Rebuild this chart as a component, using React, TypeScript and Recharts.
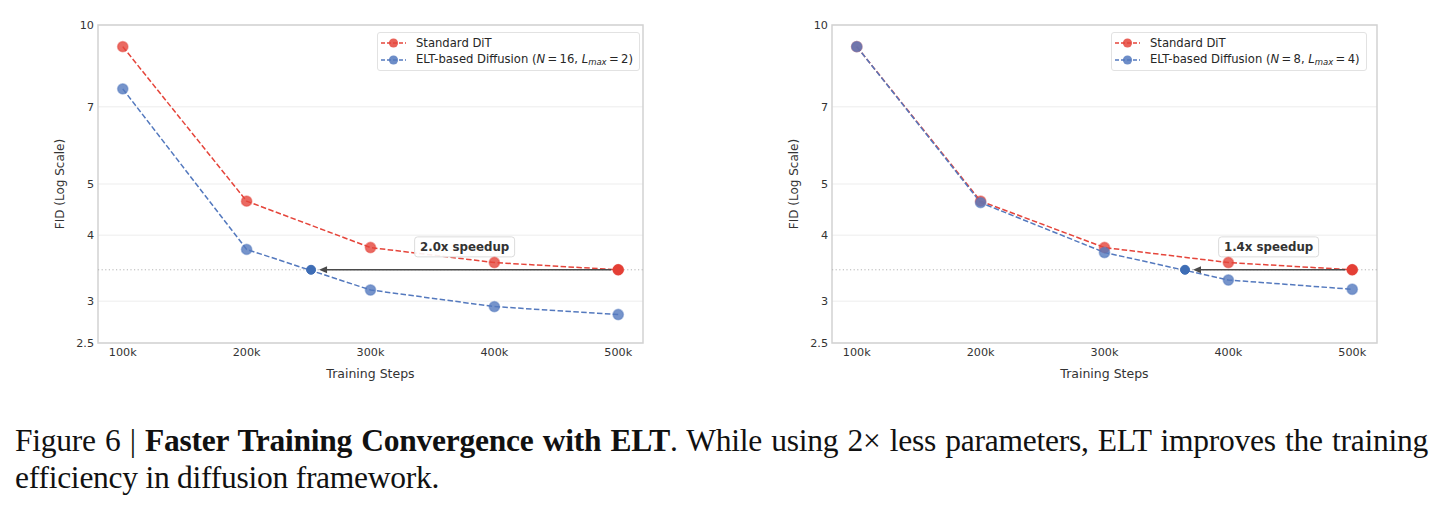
import {
  LineChart,
  Line,
  XAxis,
  YAxis,
  CartesianGrid,
  Legend,
  ReferenceLine,
  ReferenceDot,
  ReferenceArea,
} from "recharts"

// training steps at which FID was measured
const steps = [100000, 200000, 300000, 400000, 500000]
const xTicks = [100000, 200000, 300000, 400000, 500000]
const yTicks = [2.5, 3, 4, 5, 7, 10]

// baseline DiT, same run in both panels
const ditFid = [9.1, 4.64, 3.79, 3.55, 3.44]

// ELT, N=16 / Lmax=2
const eltFidWide = [7.57, 3.76, 3.15, 2.93, 2.83]
const matchStepWide = 252000
const speedupWide = "2.0x speedup"

// ELT, N=8 / Lmax=4
const eltFidDeep = [9.1, 4.61, 3.71, 3.29, 3.16]
const matchStepDeep = 365000
const speedupDeep = "1.4x speedup"

const RED = "#e5453b"
const BLUE = "#5479be"
const FONT = "DejaVu Sans, Verdana, sans-serif"

const W = 660
const H = 400

function markerDot(color: string) {
  return (p: any) => (
    <circle
      key={`d-${p.index}`}
      cx={p.cx}
      cy={p.cy}
      r={5.2}
      fill={color}
      fillOpacity={0.8}
      stroke={color}
      strokeOpacity={0.45}
      strokeWidth={1.5}
    />
  )
}

function LegendMarker({ color }: { color: string }) {
  return (
    <svg width={25} height={10} style={{ marginRight: 10, flex: "none" }}>
      <line x1={0} y1={5} x2={25} y2={5} stroke={color} strokeWidth={1.5} strokeDasharray="4 2" />
      <circle cx={12.5} cy={5} r={4.6} fill={color} fillOpacity={0.85} />
    </svg>
  )
}

function LegendBox({ n, l }: { n: number; l: number }) {
  const row = { display: "flex", alignItems: "center", height: 17, whiteSpace: "nowrap" as const }
  return (
    <div
      style={{
        border: "1px solid #e2e2e2",
        borderRadius: 3,
        background: "rgba(255,255,255,0.85)",
        padding: "1px 6px 2px 3px",
        fontFamily: FONT,
        fontSize: 11.6,
        color: "#262626",
      }}
    >
      <div style={row}>
        <LegendMarker color={RED} />
        Standard DiT
      </div>
      <div style={row}>
        <LegendMarker color={BLUE} />
        <span>
          ELT-based Diffusion (<i>N</i>&thinsp;=&thinsp;{n}, <i>L</i>
          <sub style={{ fontSize: 8.5, fontStyle: "italic", verticalAlign: "-2px" }}>max</sub>&thinsp;=&thinsp;{l})
        </span>
      </div>
    </div>
  )
}

interface PanelProps {
  elt: number[]
  matchStep: number
  speedup: string
  n: number
  l: number
  left: number
}

function Panel({ elt, matchStep, speedup, n, l, left }: PanelProps) {
  const data = steps.map((s, i) => ({ step: s, dit: ditFid[i], elt: elt[i] }))
  const target = ditFid[ditFid.length - 1]
  const lastStep = steps[steps.length - 1]

  return (
    <div style={{ position: "absolute", left, top: 0 }}>
      <LineChart width={W} height={H} data={data} margin={{ top: 25, right: 17, bottom: 27, left: 58 }}>
        <CartesianGrid vertical={false} stroke="#ededed" strokeWidth={1} />
        <ReferenceArea
          x1={80000}
          x2={520000}
          y1={2.5}
          y2={10}
          fill="none"
          fillOpacity={0}
          stroke="#d2d2d2"
          strokeWidth={1.5}
        />
        <XAxis
          dataKey="step"
          type="number"
          domain={[80000, 520000]}
          ticks={xTicks}
          tickFormatter={(v: number) => `${v / 1000}k`}
          axisLine={false}
          tickLine={false}
          tickSize={0}
          tickMargin={5}
          height={30}
          tick={{ fontFamily: FONT, fontSize: 11.2, fill: "#333" }}
          label={{
            content: ({ viewBox }: any) => (
              <text
                x={viewBox.x + viewBox.width / 2}
                y={viewBox.y + 30}
                textAnchor="middle"
                dominantBaseline="central"
                fontFamily={FONT}
                fontSize={12.5}
                fill="#333"
              >
                Training Steps
              </text>
            ),
          }}
        />
        <YAxis
          type="number"
          scale="log"
          domain={[2.5, 10]}
          ticks={yTicks}
          allowDataOverflow
          axisLine={false}
          tickLine={false}
          tickSize={0}
          tickMargin={4}
          width={40}
          tick={{ fontFamily: FONT, fontSize: 11.2, fill: "#333" }}
          label={{
            content: ({ viewBox }: any) => {
              const cx = viewBox.x + 2
              const cy = viewBox.y + viewBox.height / 2
              return (
                <text
                  x={cx}
                  y={cy}
                  transform={`rotate(-90 ${cx} ${cy})`}
                  textAnchor="middle"
                  dominantBaseline="central"
                  fontFamily={FONT}
                  fontSize={12}
                  fill="#333"
                >
                  FID (Log Scale)
                </text>
              )
            },
          }}
        />
        <ReferenceLine y={target} stroke="#b4b4b4" strokeWidth={1} strokeDasharray="1.2 2.4" />
        <Line
          type="linear"
          dataKey="dit"
          stroke={RED}
          strokeWidth={1.5}
          strokeDasharray="5.5 2.4"
          dot={markerDot(RED)}
          activeDot={false}
          isAnimationActive={false}
        />
        <Line
          type="linear"
          dataKey="elt"
          stroke={BLUE}
          strokeWidth={1.5}
          strokeDasharray="5.5 2.4"
          dot={markerDot(BLUE)}
          activeDot={false}
          isAnimationActive={false}
        />
        <ReferenceLine
          segment={[
            { x: lastStep, y: target },
            { x: matchStep, y: target },
          ]}
          shape={(p: any) => {
            const x1 = p.x1 - 7
            const tip = p.x2 + 8
            const y = p.y1
            return (
              <g>
                <line x1={x1} y1={y} x2={tip + 6} y2={y} stroke="#4a4a4a" strokeWidth={1.6} />
                <path d={`M${tip},${y} L${tip + 8},${y - 3.5} L${tip + 8},${y + 3.5} Z`} fill="#4a4a4a" />
              </g>
            )
          }}
        />
        <ReferenceDot x={matchStep} y={target} r={4.5} fill="#3e6db5" stroke="#3e6db5" strokeWidth={1} />
        <ReferenceDot x={lastStep} y={target} r={5} fill="#e0291f" stroke="#e0291f" strokeWidth={1} />
        <ReferenceDot
          x={(matchStep + lastStep) / 2}
          y={target * 1.105}
          shape={(p: any) => (
            <g>
              <rect
                x={p.cx - 50}
                y={p.cy - 10}
                width={100}
                height={20}
                rx={3}
                fill="#fff"
                fillOpacity={0.9}
                stroke="#dcdcdc"
                strokeWidth={1}
              />
              <text
                x={p.cx}
                y={p.cy}
                textAnchor="middle"
                dominantBaseline="central"
                fontFamily={FONT}
                fontSize={11.8}
                fontWeight="bold"
                fill="#333"
              >
                {speedup}
              </text>
            </g>
          )}
        />
        <Legend
          layout="horizontal"
          align="center"
          verticalAlign="middle"
          wrapperStyle={{ left: 377, top: 32, width: "auto", height: "auto" }}
          content={() => <LegendBox n={n} l={l} />}
        />
      </LineChart>
    </div>
  )
}

export default function App() {
  return (
    <div
      style={{
        position: "absolute",
        left: 0,
        top: 0,
        width: 1442,
        height: 508,
        background: "#fff",
        overflow: "hidden",
      }}
    >
      <Panel elt={eltFidWide} matchStep={matchStepWide} speedup={speedupWide} n={16} l={2} left={0} />
      <Panel elt={eltFidDeep} matchStep={matchStepDeep} speedup={speedupDeep} n={8} l={4} left={734} />
      <div
        style={{
          position: "absolute",
          left: 15,
          top: 422,
          width: 1413,
          fontFamily: "Liberation Serif, Times New Roman, serif",
          fontSize: 31.5,
          letterSpacing: -0.25,
          lineHeight: "37px",
          color: "#111",
        }}
      >
        <div style={{ textAlign: "justify", textAlignLast: "justify", whiteSpace: "nowrap" }}>
          Figure 6 | <b>Faster Training Convergence with ELT</b>. While using 2× less parameters, ELT improves the
          training
        </div>
        <div>efficiency in diffusion framework.</div>
      </div>
    </div>
  )
}
